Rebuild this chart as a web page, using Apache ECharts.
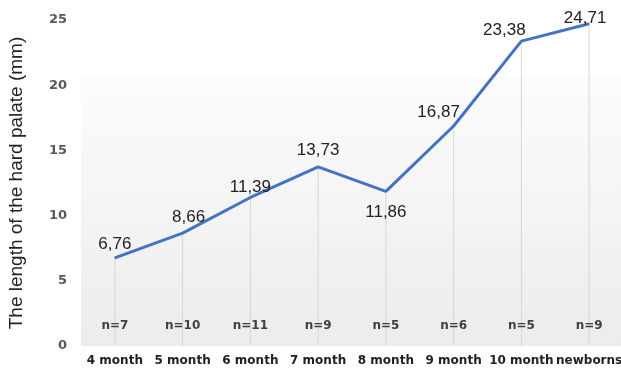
<!DOCTYPE html>
<html>
<head>
<meta charset="utf-8">
<script src="https://cdn.jsdelivr.net/npm/echarts@6/dist/echarts.min.js"></script>
<style>
  html, body { margin: 0; padding: 0; background: #fff; }
  #chart { width: 621px; height: 369px; }
</style>
</head>
<body>
<div id="chart"></div>
<script>
const categories = ["4 month", "5 month", "6 month", "7 month", "8 month", "9 month", "10 month", "newborns"];
const palateLength = [6.76, 8.66, 11.39, 13.73, 11.86, 16.87, 23.38, 24.71];
const sampleSizes = [7, 10, 11, 9, 5, 6, 5, 9];
const yTicks = [0, 5, 10, 15, 20, 25];

// label nudges so the numbers sit like in the original
const labelOffsets = [[0, 0], [6, -2], [0, 4], [0, -3], [0, 7], [-15, 0], [-17, 3], [-4, 9]];

const fmt = (v) => v.toFixed(2).replace(".", ",");

const myChart = echarts.init(document.getElementById("chart"));

const option = {
  animation: false,
  grid: { left: 81, width: 542, top: 20, bottom: 23, outerBoundsMode: "none", containLabel: false },
  xAxis: {
    type: "category",
    data: categories,
    axisLine: { show: false },
    axisTick: { show: false },
    axisLabel: {
      margin: 9,
      interval: 0,
      hideOverlap: false,
      color: "#222",
      fontWeight: "bold",
      fontSize: 12,
      fontFamily: "DejaVu Sans"
    }
  },
  yAxis: {
    type: "value",
    min: yTicks[0],
    max: yTicks[yTicks.length - 1],
    interval: 5,
    splitLine: { show: false },
    axisLine: { show: false },
    axisTick: { show: false },
    axisLabel: {
      margin: 14,
      color: "#595959",
      fontWeight: "bold",
      fontSize: 13,
      fontFamily: "DejaVu Sans"
    },
    name: "The length of the hard palate (mm)",
    nameLocation: "middle",
    nameGap: 55,
    nameTextStyle: { color: "#222", fontSize: 19, fontFamily: "Liberation Sans" }
  },
  series: [
    {
      // drop lines + sample sizes
      type: "bar",
      data: palateLength,
      barWidth: 1,
      z: 1,
      itemStyle: { color: "#d6d6d6" },
      label: {
        show: true,
        position: "insideBottom",
        distance: 14,
        formatter: (p) => "n=" + sampleSizes[p.dataIndex],
        color: "#404040",
        fontWeight: "bold",
        fontSize: 12,
        fontFamily: "DejaVu Sans"
      }
    },
    {
      type: "line",
      z: 3,
      data: palateLength.map((v, i) => ({
        value: v,
        label: {
          position: i === 4 ? "bottom" : "top",
          offset: labelOffsets[i]
        }
      })),
      symbol: "circle",
      symbolSize: 1,
      lineStyle: { color: "#4472C4", width: 3 },
      itemStyle: { color: "#4472C4" },
      label: {
        show: true,
        formatter: (p) => fmt(p.value),
        color: "#222",
        fontSize: 17,
        fontFamily: "Liberation Sans"
      },
      markArea: {
        silent: true,
        z: 0,
        itemStyle: {
          color: new echarts.graphic.LinearGradient(0, 0, 0, 1, [
            { offset: 0, color: "#fcfcfc" },
            { offset: 1, color: "#ececec" }
          ])
        },
        data: [[{ yAxis: 0 }, { yAxis: 20.7 }]]
      }
    }
  ]
};

myChart.setOption(option);
</script>
</body>
</html>
